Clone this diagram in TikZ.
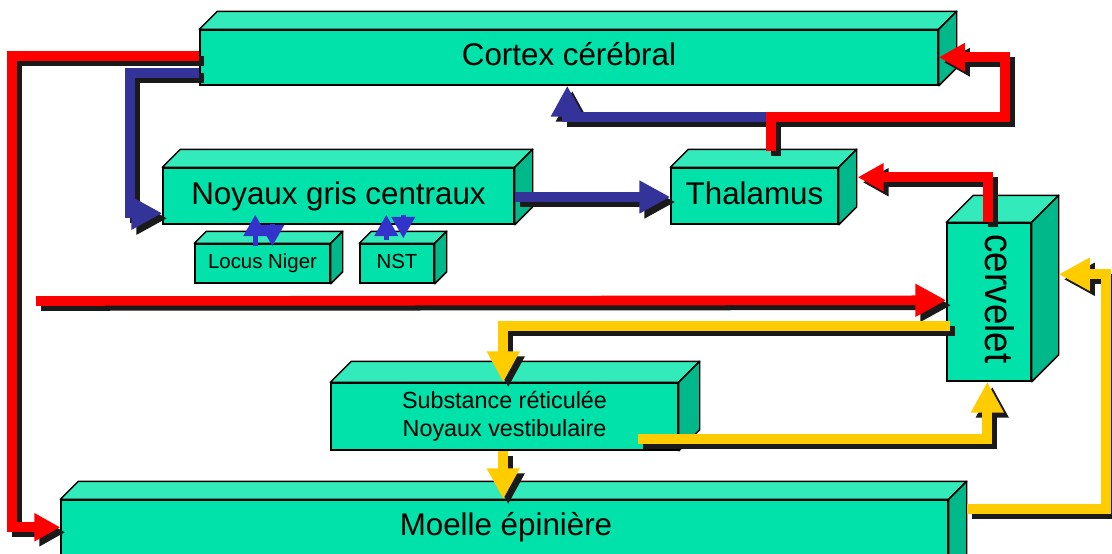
\documentclass[tikz,border=0pt]{standalone}
\usepackage{fontspec}
\usepackage{graphicx}
\setmainfont{Liberation Sans}
\usetikzlibrary{arrows.meta,calc}
\definecolor{frontc}{RGB}{0,226,170}
\definecolor{topc}{RGB}{51,234,187}
\definecolor{sidec}{RGB}{0,184,138}
\definecolor{redc}{RGB}{255,0,0}
\definecolor{bluec}{RGB}{51,51,153}
\definecolor{bluesm}{RGB}{51,51,204}
\definecolor{yelc}{RGB}{255,204,0}
\definecolor{shadc}{RGB}{26,26,26}
\tikzset{
  box/.style={draw=black, line width=1.1pt, fill=frontc, inner sep=0pt, align=center},
  topf/.style={draw=black, line width=1.1pt, fill=topc, line join=round},
  sidef/.style={draw=black, line width=1.1pt, fill=sidec, line join=round},
  bigtxt/.style={font=\fontsize{23.5}{28}\selectfont, text height=16.9pt, text depth=4.9pt},
  smalltxt/.style={font=\fontsize{15.3}{18}\selectfont, text height=11pt, text depth=3.2pt},
  midtxt/.style={font=\fontsize{17.5}{21}\selectfont},
  conn/.style={line width=7.2pt, line join=miter, line cap=butt},
  headL/.style={-{Triangle[length=23.25pt,width=23.25pt]}},
  headS/.style={-{Triangle[length=19.5pt,width=20pt]}},
  smallarrow/.style={line width=3.75pt, bluesm, -{Triangle[length=16pt,width=17pt]}},
}
\newcommand\cubefaces[2]{%
  \draw[topf] (#1.north west) -- ++(#2,-#2) -- ($(#1.north east)+(#2,-#2)$) -- (#1.north east) -- cycle;
  \draw[sidef] (#1.north east) -- ++(#2,-#2) -- ($(#1.south east)+(#2,-#2)$) -- (#1.south east) -- cycle;
}
\newcommand\shadarrow[3]{%
  \begin{scope}[transform canvas={xshift=3.75pt,yshift=-3.75pt}]
    \draw[conn,#2,shadc] #3;
  \end{scope}
  \draw[conn,#2,#1] #3;
}
\begin{document}
\begin{tikzpicture}[x=0.75pt,y=-0.75pt]
\useasboundingbox (0,0) rectangle (1112,553);
\fill[white] (0,0) rectangle (1112,553);
\clip (0,0) rectangle (1112,553);

% boxes
\node[box, bigtxt, minimum width=553.5pt, minimum height=41.25pt] (cortex) at (569,57.5) {Cortex cérébral};
\cubefaces{cortex}{18}
\node[box, bigtxt, minimum width=263.25pt, minimum height=42pt] (noyaux) at (338.5,196) {Noyaux gris centraux};
\cubefaces{noyaux}{18}
\node[box, bigtxt, minimum width=125.25pt, minimum height=42pt] (thalamus) at (754.5,196) {Thalamus};
\cubefaces{thalamus}{18}
\node[box, smalltxt, minimum width=101.25pt, minimum height=29.25pt] (locus) at (262.5,263.5) {Locus Niger};
\cubefaces{locus}{12}
\node[box, smalltxt, minimum width=55.5pt, minimum height=29.25pt] (nst) at (397,263.5) {NST};
\cubefaces{nst}{12}
\node[box, minimum width=63pt, minimum height=118.5pt] (cervelet) at (989,302) {};
\cubefaces{cervelet}{27}
\node[rotate=-90, font=\fontsize{30}{36}\selectfont, text height=21.6pt, text depth=6.3pt, inner sep=0pt] (cervtext) at (996,299) {\scalebox{0.92}[1]{cervelet}};
\node[box, midtxt, minimum width=260.25pt, minimum height=50.25pt] (substance) at (504.5,416.5) {Substance réticulée\\Noyaux vestibulaire};
\cubefaces{substance}{21}
\node[box, minimum width=665.25pt, minimum height=56.25pt] (moelle) at (504.5,537.5) {};
\cubefaces{moelle}{18}
\node[bigtxt, inner sep=0pt] (moelletext) at (506,527) {Moelle épinière};

\coordinate (redin) at (36,301);

% arrows
\shadarrow{redc}{headS}{($(cortex.north west)+(0,27)$) -| ($(moelle.north west)+(-48,28)$) -- ($(moelle.north west)+(0,28)$)}
\shadarrow{bluec}{headL}{($(cortex.north west)+(0,44)$) -| ($(noyaux.north west)+(-32,46)$) -- ($(noyaux.north west)+(0,46)$)}
\shadarrow{bluec}{headL}{($(noyaux.east)+(0,1)$) -- ($(thalamus.west)+(0,1)$)}
\shadarrow{bluec}{headL}{($(thalamus.north west)+(106,-50)$) -| ($(cortex.south west)+(368,0)$)}
\shadarrow{redc}{headS}{($(thalamus.north west)+(101,-16)$) |- ($(cortex.north east)+(66,88)$) |- ($(cortex.north east)+(0,28)$)}
\shadarrow{redc}{headS}{($(cervelet.north)+(-1,0)$) |- ($(thalamus.north east)+(19,10)$)}
\shadarrow{redc}{headL}{(redin) -- ($(cervelet.north west)+(0,78)$)}
\shadarrow{yelc}{headL}{($(cervelet.north west)+(4,104)$) -| ($(substance.north west)+(173,0)$)}
\shadarrow{yelc}{headL}{($(substance.south west)+(308,-12)$) -| ($(cervelet.south west)+(41,0)$)}
\shadarrow{yelc}{headL}{($(substance.south west)+(173,0)$) -- ($(moelle.north west)+(443,0)$)}
\shadarrow{yelc}{headL}{($(moelle.north east)+(18,10)$) -| ($(cervelet.north east)+(74,52)$) -- ($(cervelet.north east)+(27,52)$)}

% small arrows
\draw[smallarrow] ($(locus.north west)+(61,3)$) -- ($(noyaux.south west)+(93,-10)$);
\draw[smallarrow] ($(noyaux.south west)+(110,-1)$) -- ($(locus.north west)+(78,3)$);
\draw[smallarrow] ($(nst.north west)+(27,-3)$) -- ($(noyaux.south west)+(224,-10)$);
\draw[smallarrow] ($(noyaux.south west)+(241,-10)$) -- ($(nst.north west)+(44,-5)$);
\end{tikzpicture}
\end{document}
